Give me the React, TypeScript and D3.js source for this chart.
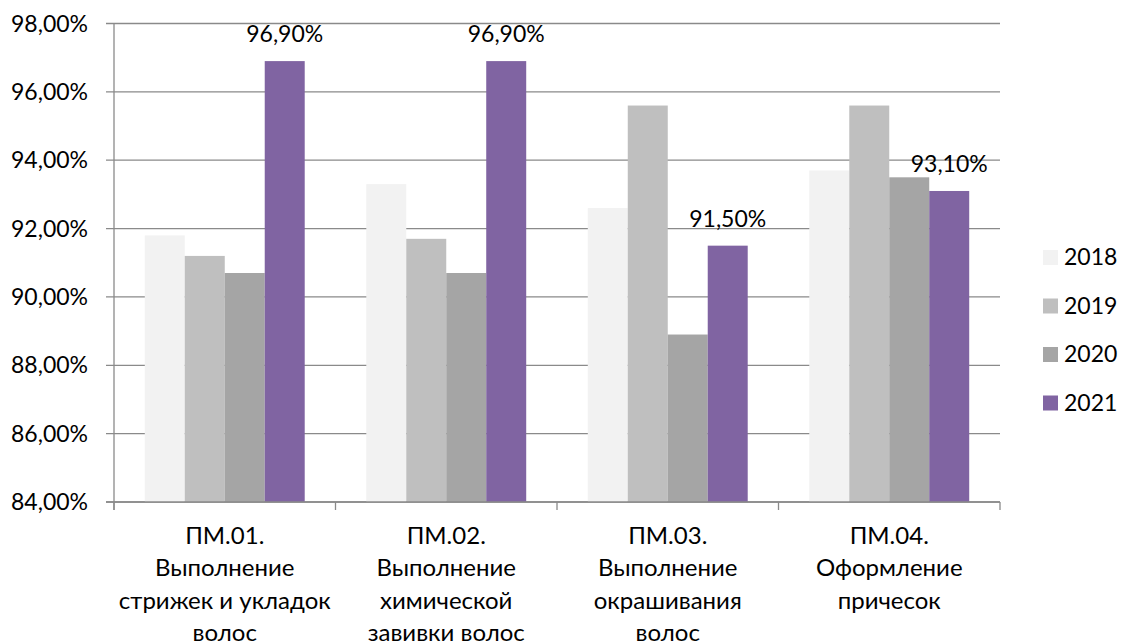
import React, { useEffect, useRef } from "react";
import * as d3 from "d3";

const categories = [
  ["ПМ.01.", "Выполнение", "стрижек и укладок", "волос"],
  ["ПМ.02.", "Выполнение", "химической", "завивки волос"],
  ["ПМ.03.", "Выполнение", "окрашивания", "волос"],
  ["ПМ.04.", "Оформление", "причесок"],
];
const years = ["2018", "2019", "2020", "2021"];
const colors = ["#F2F2F2", "#BFBFBF", "#A5A5A5", "#8064A2"];
// values per year, one entry per category
const v2018 = [91.8, 93.3, 92.6, 93.7];
const v2019 = [91.2, 91.7, 95.6, 95.6];
const v2020 = [90.7, 90.7, 88.9, 93.5];
const v2021 = [96.9, 96.9, 91.5, 93.1];
const yTicks = [84, 86, 88, 90, 92, 94, 96, 98];

const W = 1121;
const H = 643;
const FONT = "Lato, 'Open Sans', sans-serif";

const fmt = (v: number) => v.toFixed(2).replace(".", ",") + "%";

const App: React.FC = () => {
  const svgRef = useRef<SVGSVGElement | null>(null);

  useEffect(() => {
    if (!svgRef.current) return;
    const svg = d3.select(svgRef.current);
    svg.selectAll("*").remove();

    const left = 114,
      right = 1000,
      top = 23.5,
      bottom = 502;
    const series = [v2018, v2019, v2020, v2021];

    const x0 = d3
      .scaleBand<number>()
      .domain(d3.range(categories.length))
      .range([left, right])
      .paddingInner(0.278)
      .paddingOuter(0.139);
    const x1 = d3
      .scaleBand<number>()
      .domain(d3.range(years.length))
      .range([0, x0.bandwidth()]);
    const y = d3.scaleLinear().domain([84, 98]).range([bottom, top]);

    const grid = "#8A8A8A";

    // gridlines + y tick marks
    svg
      .append("g")
      .selectAll("line")
      .data(yTicks)
      .enter()
      .append("line")
      .attr("x1", left - 8)
      .attr("x2", right)
      .attr("y1", (d) => y(d))
      .attr("y2", (d) => y(d))
      .attr("stroke", grid)
      .attr("stroke-width", 1.3);

    svg
      .append("g")
      .selectAll("text")
      .data(yTicks)
      .enter()
      .append("text")
      .attr("x", 88)
      .attr("y", (d) => y(d))
      .attr("dy", "0.35em")
      .attr("text-anchor", "end")
      .style("font-family", FONT)
      .style("font-size", "23px")
      .style("fill", "#000")
      .text((d) => fmt(d));

    // bars
    const groups = svg
      .append("g")
      .selectAll("g")
      .data(categories.map((_, i) => i))
      .enter()
      .append("g")
      .attr("transform", (i) => `translate(${x0(i)},0)`);

    groups
      .selectAll("rect")
      .data((i) => series.map((s, k) => ({ k, v: s[i] })))
      .enter()
      .append("rect")
      .attr("x", (d) => x1(d.k) ?? 0)
      .attr("width", x1.bandwidth())
      .attr("y", (d) => y(d.v))
      .attr("height", (d) => bottom - y(d.v))
      .attr("fill", (d) => colors[d.k]);

    // data labels for 2021
    groups
      .append("text")
      .attr("x", (x1(3) ?? 0) + x1.bandwidth() / 2)
      .attr("y", (i) => y(v2021[i]) - 19)
      .attr("text-anchor", "middle")
      .style("font-family", FONT)
      .style("font-size", "23px")
      .style("fill", "#000")
      .text((i) => fmt(v2021[i]));

    // axes lines
    svg
      .append("line")
      .attr("x1", left)
      .attr("x2", left)
      .attr("y1", top)
      .attr("y2", bottom + 8)
      .attr("stroke", grid)
      .attr("stroke-width", 1.3);
    svg
      .append("line")
      .attr("x1", left - 8)
      .attr("x2", right)
      .attr("y1", bottom)
      .attr("y2", bottom)
      .attr("stroke", grid)
      .attr("stroke-width", 1.3);

    const step = x0.step();
    svg
      .append("g")
      .selectAll("line")
      .data(d3.range(categories.length + 1))
      .enter()
      .append("line")
      .attr("x1", (i) => left + i * step)
      .attr("x2", (i) => left + i * step)
      .attr("y1", bottom)
      .attr("y2", bottom + 8)
      .attr("stroke", grid)
      .attr("stroke-width", 1.3);

    // category labels
    const cat = svg
      .append("g")
      .selectAll("text")
      .data(categories)
      .enter()
      .append("text")
      .attr("text-anchor", "middle")
      .style("font-family", FONT)
      .style("font-size", "24px")
      .style("fill", "#000");
    cat
      .selectAll("tspan")
      .data((d, i) => d.map((line) => ({ line, i })))
      .enter()
      .append("tspan")
      .attr("x", (d) => (x0(d.i) ?? 0) + x0.bandwidth() / 2)
      .attr("y", (d, j) => 544 + j * 32.3)
      .text((d) => d.line);

    // legend
    const leg = svg
      .append("g")
      .selectAll("g")
      .data(years)
      .enter()
      .append("g")
      .attr("transform", (d, i) => `translate(1043,${257 + i * 48.5})`);
    leg
      .append("rect")
      .attr("x", 0)
      .attr("y", -7)
      .attr("width", 15)
      .attr("height", 15)
      .attr("fill", (d, i) => colors[i]);
    leg
      .append("text")
      .attr("x", 21)
      .attr("y", 0)
      .attr("dy", "0.35em")
      .style("font-family", FONT)
      .style("font-size", "23px")
      .style("fill", "#000")
      .text((d) => d);
  }, []);

  return (
    <div style={{ position: "fixed", left: 0, top: 0, width: W, height: H, background: "#fff" }}>
      <svg ref={svgRef} width={W} height={H} />
    </div>
  );
};

export default App;
